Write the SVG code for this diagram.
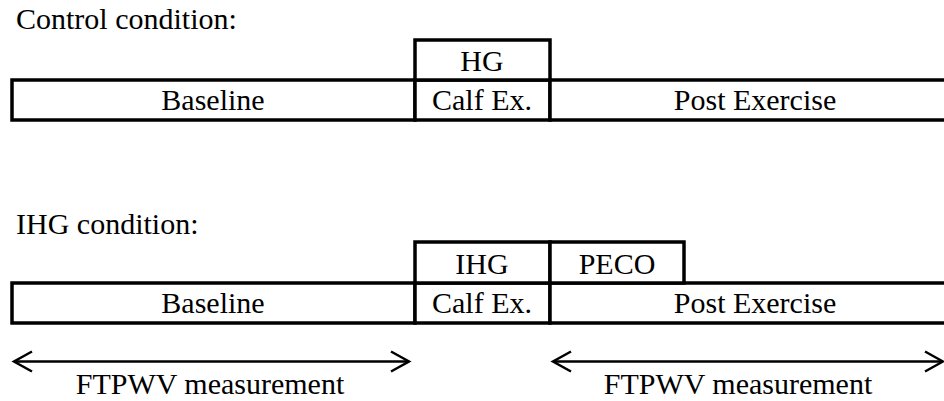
<svg xmlns="http://www.w3.org/2000/svg" width="944" height="401" viewBox="0 0 944 401">
<style>
text{font-family:"Liberation Serif","Times New Roman",serif;font-size:30px;fill:#000}
.c{text-anchor:middle}
.b{fill:#fff;stroke:#000;stroke-width:3.5}
.a{fill:none;stroke:#000;stroke-width:2.5}
</style>
<defs>
<marker id="ah" viewBox="0 0 24 24" refX="20" refY="12" markerWidth="24" markerHeight="24" markerUnits="userSpaceOnUse" orient="auto-start-reverse">
<path d="M2,2 L20,12 L2,22" fill="none" stroke="#000" stroke-width="2.5"/>
</marker>
</defs>
<rect width="944" height="401" fill="#fff"/>
<text x="16" y="29">Control condition:</text>
<g id="control-baseline"><rect class="b" x="12" y="80" width="403" height="40"/><text class="c" x="213" y="110">Baseline</text></g>
<g id="control-calf"><rect class="b" x="415" y="80" width="135" height="40"/><text class="c" x="482" y="110">Calf Ex.</text></g>
<g id="control-post"><rect class="b" x="550" y="80" width="410" height="40"/><text class="c" x="755" y="110">Post Exercise</text></g>
<g id="control-hg"><rect class="b" x="415" y="40" width="135" height="40"/><text class="c" x="482" y="71">HG</text></g>
<text x="16" y="234">IHG condition:</text>
<g id="ihg-baseline"><rect class="b" x="12" y="283" width="403" height="40"/><text class="c" x="213" y="313">Baseline</text></g>
<g id="ihg-calf"><rect class="b" x="415" y="283" width="135" height="40"/><text class="c" x="482" y="313">Calf Ex.</text></g>
<g id="ihg-post"><rect class="b" x="550" y="283" width="410" height="40"/><text class="c" x="755" y="313">Post Exercise</text></g>
<g id="ihg-ihg"><rect class="b" x="415" y="242" width="135" height="41"/><text class="c" x="482" y="274">IHG</text></g>
<g id="ihg-peco"><rect class="b" x="550" y="242" width="134" height="41"/><text class="c" x="617" y="274">PECO</text></g>
<g id="connectors">
<line class="a" x1="14" y1="361.5" x2="409" y2="361.5" marker-start="url(#ah)" marker-end="url(#ah)"/>
<line class="a" x1="553" y1="361.5" x2="943" y2="361.5" marker-start="url(#ah)" marker-end="url(#ah)"/>
</g>
<text class="c" x="210" y="394">FTPWV measurement</text>
<text class="c" x="738" y="394">FTPWV measurement</text>
</svg>
